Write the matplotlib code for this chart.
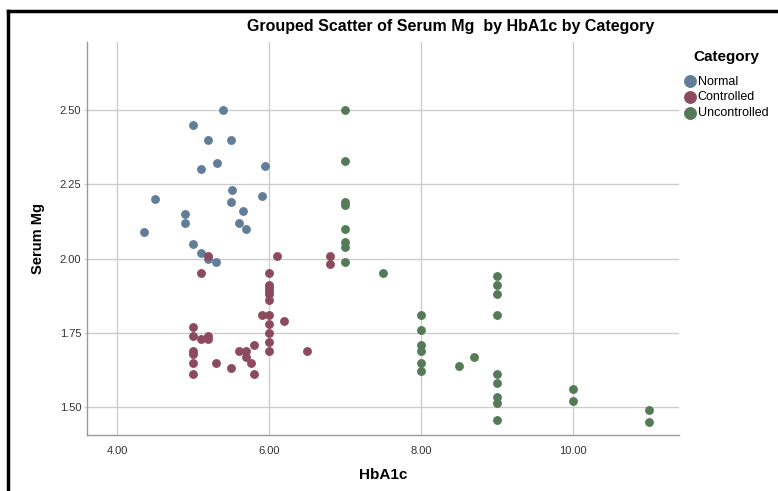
import matplotlib
matplotlib.use("Agg")
from matplotlib import pyplot as plt
from matplotlib.lines import Line2D

plt.rcParams['font.family'] = ['Liberation Sans', 'DejaVu Sans']

categories = ["Normal", "Controlled", "Uncontrolled"]
colors = ["#627d98", "#8c4a5e", "#557a57"]

# Normal
normal_x = [5.40, 5.00, 5.19, 5.50, 5.32, 5.10, 5.95, 5.51, 5.90, 4.50,
            5.50, 5.65, 4.90, 4.90, 5.60, 5.70, 4.35, 5.00, 5.10, 5.20, 5.30]
normal_y = [2.50, 2.45, 2.40, 2.40, 2.32, 2.30, 2.31, 2.23, 2.21, 2.20,
            2.19, 2.16, 2.15, 2.12, 2.12, 2.10, 2.09, 2.05, 2.02, 2.00, 1.99]

# Controlled
controlled_x = [5.20, 6.10, 5.10, 6.00, 6.00, 6.00, 6.00, 6.00, 6.00, 5.90,
                6.00, 6.20, 6.00, 5.00, 6.00, 5.00, 5.10, 5.20, 5.20, 5.80,
                6.00, 5.00, 5.00, 5.60, 5.70, 6.00, 6.50, 5.70, 5.00, 5.30,
                5.76, 5.50, 5.00, 5.80, 6.80, 6.80]
controlled_y = [2.01, 2.01, 1.95, 1.95, 1.91, 1.90, 1.89, 1.88, 1.86, 1.81,
                1.81, 1.79, 1.78, 1.77, 1.75, 1.74, 1.73, 1.74, 1.73, 1.71,
                1.72, 1.69, 1.68, 1.69, 1.69, 1.69, 1.69, 1.67, 1.65, 1.65,
                1.65, 1.63, 1.61, 1.61, 2.01, 1.98]

# Uncontrolled
uncontrolled_x = [7.0, 7.0, 7.0, 7.0, 7.0, 7.0, 7.0, 7.0, 7.5,
                  8.0, 8.0, 8.0, 8.0, 8.0, 8.0, 8.5, 8.7,
                  9.0, 9.0, 9.0, 9.0, 9.0, 9.0, 9.0, 9.0, 9.0,
                  10.0, 10.0, 11.0, 11.0]
uncontrolled_y = [2.50, 2.33, 2.19, 2.18, 2.10, 2.055, 2.04, 1.99, 1.95,
                  1.81, 1.76, 1.71, 1.69, 1.65, 1.62, 1.64, 1.67,
                  1.94, 1.91, 1.88, 1.81, 1.61, 1.58, 1.535, 1.515, 1.455,
                  1.56, 1.52, 1.49, 1.45]

xs = [normal_x, controlled_x, uncontrolled_x]
ys = [normal_y, controlled_y, uncontrolled_y]

x_ticks = [4, 6, 8, 10]
y_ticks = [1.50, 1.75, 2.00, 2.25, 2.50]

fig = plt.figure(figsize=(7.78, 4.91), dpi=100)
ax = fig.add_axes([0.1118, 0.114, 0.761, 0.8005])

for name, c, x, y in zip(categories, colors, xs, ys):
    ax.scatter(x, y, s=34, color=c, edgecolors=c, linewidths=0.5,
               label=name, zorder=3)

ax.set_xlim(3.605, 11.39)
ax.set_ylim(1.406, 2.729)
ax.set_xticks(x_ticks)
ax.set_xticklabels(["%.2f" % v for v in x_ticks])
ax.set_yticks(y_ticks)
ax.set_yticklabels(["%.2f" % v for v in y_ticks])
ax.grid(True, color="#cccccc", linewidth=1.0)
ax.set_axisbelow(True)
for s in ["top", "right"]:
    ax.spines[s].set_visible(False)
for s in ["left", "bottom"]:
    ax.spines[s].set_color("#999999")
    ax.spines[s].set_linewidth(1.0)
ax.tick_params(axis="x", length=0, pad=8, labelsize=8, labelcolor="#333333")
ax.tick_params(axis="y", length=2, color="#cccccc", pad=2, labelsize=8,
               labelcolor="#333333")

# axis titles placed in figure pixels
fig.text(383 / 778, 1 - 475 / 491, "HbA1c", ha="center", va="center",
         fontsize=11, fontweight="bold")
fig.text(38 / 778, 1 - 238 / 491, "Serum Mg", ha="center", va="center",
         rotation=90, fontsize=10.5, fontweight="bold")

fig.text(451 / 778, 1 - 27 / 491,
         "Grouped Scatter of Serum Mg  by HbA1c by Category",
         ha="center", va="center", fontsize=11.5, fontweight="bold")

leg = ax.legend(loc="upper left", bbox_to_anchor=(0.868, 0.915),
                bbox_transform=fig.transFigure, frameon=False,
                title="Category", fontsize=9, markerscale=1.5,
                handletextpad=0.1, labelspacing=0.3, borderpad=0.2,
                handlelength=1.0)
leg.get_title().set_fontweight("bold")
leg.get_title().set_fontsize(11)
leg._legend_box.sep = 8

# black frame on top and left edges
fig.add_artist(Line2D([8 / 778, 8 / 778], [0, 1 - 11 / 491],
                      transform=fig.transFigure, color="black", linewidth=2.5))
fig.add_artist(Line2D([8 / 778, 1], [1 - 11 / 491, 1 - 11 / 491],
                      transform=fig.transFigure, color="black", linewidth=2.5))

fig.savefig("out.png", dpi=100)
